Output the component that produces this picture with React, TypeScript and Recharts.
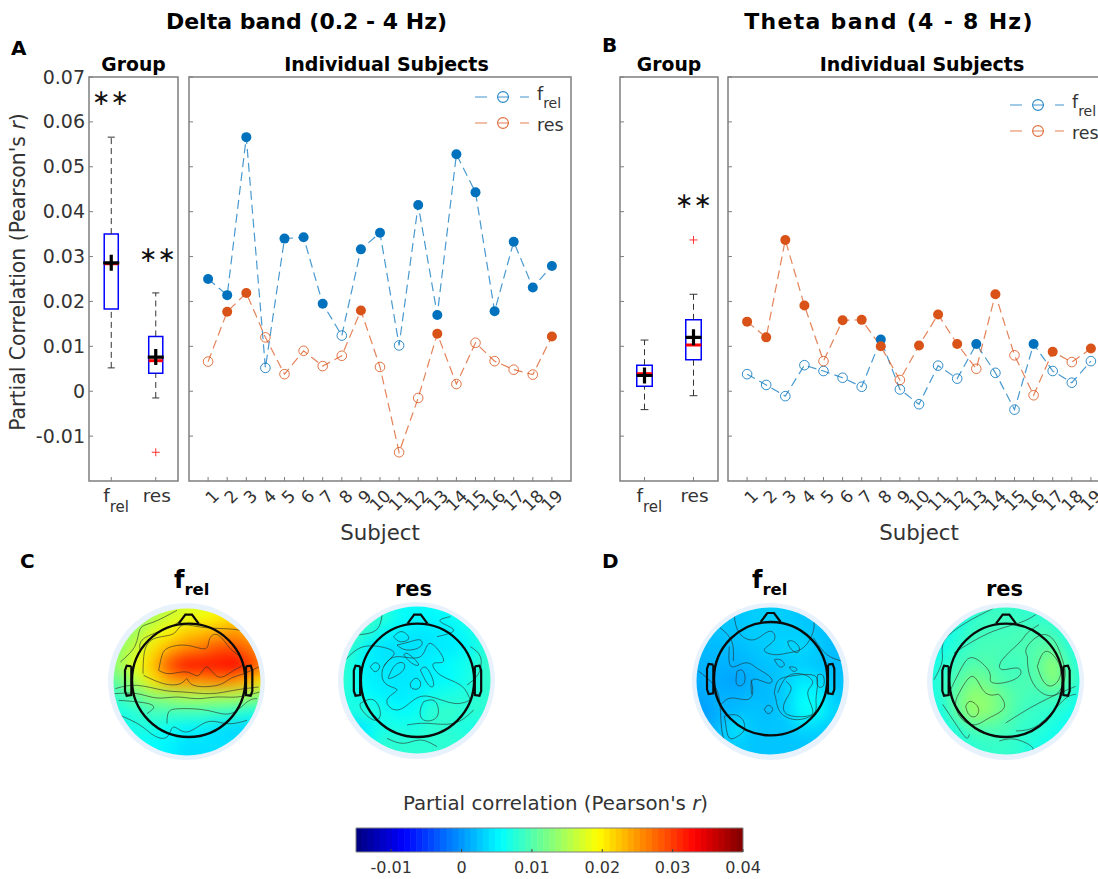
import React from 'react';
import { ComposedChart, Line, Scatter, XAxis, YAxis, ReferenceArea, ReferenceLine, ReferenceDot, Legend } from 'recharts';

const FONT = '"DejaVu Sans", sans-serif';
const BLUE = '#0072BD';
const ORANGE = '#D95319';
const GRAY = '#7f7f7f';
const TEXT = '#333333';

// ---------- Panels A / B data ----------
const subjects = [1, 2, 3, 4, 5, 6, 7, 8, 9, 10, 11, 12, 13, 14, 15, 16, 17, 18, 19];
const yTicks = [-0.01, 0, 0.01, 0.02, 0.03, 0.04, 0.05, 0.06, 0.07];
const yTickLabels = ['-0.01', '0', '0.01', '0.02', '0.03', '0.04', '0.05', '0.06', '0.07'];
const seriesNames = ['frel', 'res'];

const deltaFrel = [0.025, 0.0214, 0.0566, 0.0052, 0.034, 0.0343, 0.0195, 0.0124, 0.0316, 0.0353, 0.0102, 0.0415, 0.017, 0.0528, 0.0443, 0.0178, 0.0333, 0.0231, 0.0279];
const deltaRes = [0.0066, 0.0177, 0.0219, 0.012, 0.0038, 0.009, 0.0056, 0.0079, 0.018, 0.0054, -0.0136, -0.0015, 0.0128, 0.0016, 0.0108, 0.0067, 0.0048, 0.0037, 0.0122];
const deltaFrelOpen = [4, 8, 11];
const deltaResFilled = [2, 3, 9, 13, 19];

const thetaFrel = [0.0038, 0.0014, -0.0011, 0.0058, 0.0045, 0.003, 0.001, 0.0115, 0.0004, -0.0029, 0.0057, 0.0028, 0.0105, 0.0041, -0.0041, 0.0105, 0.0045, 0.0019, 0.0067];
const thetaRes = [0.0155, 0.012, 0.0337, 0.0191, 0.0067, 0.0158, 0.0159, 0.01, 0.0025, 0.0102, 0.0171, 0.0105, 0.005, 0.0216, 0.008, -0.0009, 0.0088, 0.0065, 0.0095];
const thetaFrelFilled = [8, 13, 16];
const thetaResFilled = [1, 2, 3, 4, 6, 7, 8, 10, 11, 12, 14, 17, 19];

// [low whisker, q1, median, mean, q3, high whisker]
const deltaFrelBox = [0.0052, 0.0183, 0.0284, 0.0286, 0.035, 0.0566];
const deltaResBox = [-0.0015, 0.004, 0.0068, 0.0076, 0.0122, 0.0219];
const deltaOutliers = [{ x: 2, y: -0.0136 }];
const thetaFrelBox = [-0.0041, 0.0011, 0.0039, 0.0035, 0.0058, 0.0114];
const thetaResBox = [-0.001, 0.007, 0.0103, 0.012, 0.0159, 0.0216];
const thetaOutliers = [{ x: 2, y: 0.0337 }];

// ---------- Topographic maps (values x 0.001) ----------
const gridCoords = [-240, -192, -144, -96, -48, 0, 48, 96, 144, 192, 240];
const cFrelGrid = [
  [12, 12, 13, 14, 16, 17, 17, 18, 19, 20, 20],
  [12, 12, 13, 15, 17, 18, 19, 20, 21, 22, 22],
  [12, 13, 15, 18, 20, 22, 23, 24, 25, 24, 23],
  [12, 14, 17, 21, 24, 26, 27, 29, 29, 27, 25],
  [12, 15, 19, 23, 29, 32, 32, 32, 33, 30, 26],
  [10, 12, 16, 21, 24, 25, 25, 26, 25, 23, 20],
  [8, 9, 11, 13, 14, 15, 15, 15, 15, 14, 12],
  [7, 7, 8, 9, 9, 9, 9, 8.5, 8, 7, 7],
  [6, 6.5, 7, 7, 6, 5, 5, 4, 3.5, 3.5, 3.5],
  [6, 6, 6, 5.5, 5, 4, 4, 4, 4, 4, 4],
  [6, 6, 6, 5.5, 5, 4, 4, 4, 4, 4, 4],
];
const cResGrid = [
  [8, 8, 8, 7, 6, 6, 6, 6, 6, 7, 7],
  [8, 9, 9, 8, 6, 5.5, 5.5, 6, 7, 7, 7],
  [9, 9, 8, 6, 5, 4.5, 4.5, 5, 6, 7.5, 8],
  [9, 8, 5, 4, 4, 4, 4.5, 4.5, 5, 7, 8],
  [9, 7, 5, 4.5, 4.5, 4.5, 5, 5.5, 6.5, 8, 8.5],
  [9, 7, 5, 4.5, 4.5, 4.5, 5, 5.5, 6.5, 8, 8.5],
  [8, 7, 5.5, 5, 4.5, 5, 6.5, 7, 7.5, 8, 8],
  [7, 7, 8, 6.5, 5.5, 6, 8, 8.5, 8, 8, 7.5],
  [5, 3.5, 5, 7, 7, 7, 8, 8, 7, 7, 7],
  [5, 4, 6, 8, 8, 8, 8, 8, 8, 7, 7],
  [5, 5, 7, 8, 8, 8, 8, 8, 8, 7, 7],
];
const dFrelGrid = [
  [2.5, 2.5, 2.5, 2.5, 3, 3, 3, 2.5, 2.5, 2.5, 2.5],
  [2, 2, 2.5, 2.5, 3, 3, 3, 2.5, 2.5, 2, 2],
  [2, 2, 2.5, 2.5, 3, 3, 3, 3, 2.5, 2, 2],
  [1.5, 2, 2, 2, 2.5, 3, 3.5, 3.5, 3, 2, 2],
  [1.5, 1.5, 1.5, 1.5, 2, 2.5, 2.5, 3, 2.5, 2, 2],
  [1, 1.5, 1, 0.5, 1.5, 2, 3, 4.5, 4, 2.5, 2.5],
  [0.5, 1, 1.5, 1.5, 2, 2, 3, 5.5, 5.5, 3, 2.5],
  [0, 0.5, 1.5, 2, 2.5, 2, 3, 6, 6, 3.5, 3],
  [0, 0.5, 2.5, 4.5, 2.5, 2.5, 2.5, 3.5, 3.5, 2.5, 2.5],
  [0.5, 1, 2.5, 3, 2.5, 2.5, 2.5, 2.5, 2.5, 2.5, 2],
  [0.5, 1, 2.5, 3, 2.5, 2.5, 2.5, 2.5, 2.5, 2.5, 2],
];
const dResGrid = [
  [6, 6, 6, 7.5, 8, 8, 8, 8, 7, 6, 6],
  [5, 5.5, 6.5, 8, 9, 9, 8.5, 8, 8, 6, 5.5],
  [5, 6, 7.5, 9, 9, 9, 9.5, 9.5, 9, 7, 5.5],
  [5.5, 6.5, 8, 9, 9.5, 9.5, 9.5, 10, 11, 8, 6],
  [6.5, 7.5, 9, 10, 10, 9, 9, 10.5, 13.5, 9, 7],
  [7, 8, 10, 12, 11, 9.5, 9.5, 10, 13, 10, 7],
  [6, 8, 11, 13.5, 13, 11, 9.5, 9, 9.5, 8, 6],
  [6, 7, 11, 14, 13, 11, 9, 8.5, 8, 7, 5.5],
  [5.5, 6.5, 8, 10, 10, 9.5, 8.5, 8, 7, 6, 5.5],
  [5, 6, 7, 8, 8.5, 8.5, 8, 7, 6.5, 6, 5],
  [5, 6, 7, 8, 8.5, 8.5, 8, 7, 6.5, 6, 5],
];

type P = number[][];
const cFrelContours: P[] = [
  [[-85, 35], [-75, 80], [-55, 103], [0, 110], [55, 100], [68, 130], [95, 140], [130, 100], [160, 75], [165, 50], [140, 35], [95, 15], [60, 45], [35, 20], [0, 30], [-50, 25], [-85, 35]],
  [[-132, 25], [-125, 100], [-90, 133], [-40, 145], [-15, 170], [40, 165], [110, 160], [160, 155], [200, 140]],
  [[-130, 20], [-70, -5], [-20, -5], [0, 10], [20, -10], [90, -10], [130, 10], [170, 25], [215, 45]],
  [[-215, -20], [-150, -10], [-70, -25], [-10, -30], [70, -35], [140, -25], [215, -15]],
  [[-218, -35], [-150, -35], [-90, -48], [-30, -45], [30, -50], [90, -45], [150, -45], [218, -30]],
  [[-205, -55], [-130, -62], [-100, -75], [-120, -95]],
  [[-60, -125], [-55, -90], [-20, -80], [60, -85], [130, -95], [180, -60], [210, -50]],
  [[-200, -100], [-140, -130], [-100, -160], [-60, -165], [-40, -135], [0, -150], [60, -120], [120, -125], [180, -115]],
  [[-200, 60], [-155, 110], [-140, 160], [-100, 180], [-30, 215]],
  [[-140, 90], [-130, 130], [-60, 160], [-20, 185]],
];
const cResContours: P[] = [
  [[-215, 60], [-160, 100], [-90, 95], [-70, 75], [-100, 40], [-95, -10], [-60, -30], [-90, -60], [-60, -90], [-10, -60], [40, -50], [110, -70], [160, -60]],
  [[160, -60], [130, -15], [70, 15], [50, 50], [80, 60], [40, 110], [10, 70], [-60, 70], [-100, 40]],
  [[-70, 130], [-45, 145], [-25, 125], [-50, 115], [-70, 130]],
  [[-60, 105], [-20, 115], [10, 120], [10, 100], [-30, 90], [-60, 105]],
  [[-140, 40], [-125, 52], [-112, 40], [-125, 25], [-140, 40]],
  [[-85, 10], [-65, 45], [-40, 50], [-45, 25], [-80, 5], [-85, 10]],
  [[-40, 75], [-15, 50], [5, 45], [-10, 65], [-30, 80], [-40, 75]],
  [[-20, -10], [-5, 5], [10, -5], [5, -25], [-15, -25], [-20, -10]],
  [[10, 30], [30, 35], [50, -10], [35, -15], [10, 30]],
  [[20, -65], [55, -65], [60, -110], [20, -120], [10, -90], [20, -65]],
  [[-170, -70], [-130, -60], [-110, -100], [-130, -120], [-165, -90], [-170, -70]],
  [[-180, 135], [-130, 145], [-110, 170], [-105, 195]],
  [[100, 190], [70, 175], [110, 150], [60, 130]],
  [[160, 100], [190, 70], [185, 20], [150, -15]],
  [[-30, -135], [30, -130], [110, -130], [170, -90]],
  [[-90, -175], [-40, -190], [10, -180], [60, -200]],
];
const dFrelContours: P[] = [
  [[-107, 194], [-92, 144], [-47, 124], [-2, 149], [13, 124], [-17, 94], [13, 79], [53, 84], [100, 100], [130, 150], [130, 195]],
  [[-122, 104], [-117, 44], [-77, 54], [-47, 44], [-32, 34], [3, 9], [-7, -6], [-50, 5], [-55, -40]],
  [[23, -36], [53, 14], [103, 19], [128, -6], [113, -36], [128, -86], [108, -106], [53, -101], [43, -66], [63, -26], [48, -1]],
  [[13, -36], [23, -1], [58, 14], [123, 19], [143, -6], [138, -56], [133, -96], [83, -116], [33, -96], [18, -56], [13, -36]],
  [[53, 119], [60, 100], [80, 85], [88, 100], [70, 119], [53, 119]],
  [[13, 64], [30, 42], [43, 50], [30, 64], [13, 64]],
  [[58, 42], [70, 29], [81, 35], [70, 42], [58, 42]],
  [[-17, -85], [-5, -73], [8, -85], [-5, -98], [-17, -85]],
  [[-99, 29], [-80, 29], [-77, -5], [-99, -11], [-99, 29]],
  [[143, 19], [160, 15], [160, -14], [143, -14], [143, 19]],
  [[-147, -71], [-117, -51], [-72, -56], [-52, -36], [-57, 4]],
  [[-137, -106], [-107, -101], [-82, -116], [-77, -146], [-97, -166], [-122, -171], [-132, -136], [-137, -106]],
  [[-215, 30], [-170, -10], [-150, -70], [-140, -170], [-100, -210]],
  [[-150, 160], [-115, 120], [-110, 60]],
  [[130, 130], [170, 80], [215, 60]],
];
const dResContours: P[] = [
  [[94, 44], [124, 89], [164, 34], [139, -14], [109, 4], [94, 44]],
  [[64, 74], [64, 104], [109, 139], [149, 114], [169, 64], [177, 14], [150, -40], [100, -30], [70, 20], [64, 74]],
  [[-121, -76], [-106, -61], [-83, -81], [-91, -106], [-111, -101], [-121, -76]],
  [[-146, -46], [-101, 14], [-66, -31], [-31, -41], [-16, -46], [-6, -81], [-51, -111], [-91, -131], [-131, -116], [-151, -76], [-146, -46]],
  [[-171, -36], [-131, 44], [-96, 69], [-51, 29], [-46, -1], [-11, -6], [39, 14], [34, 39], [-11, 34], [-11, 64], [39, 114], [64, 144], [99, 169]],
  [[-156, 84], [-51, 144], [39, 174], [89, 199]],
  [[-216, 4], [-191, 64], [-186, 119], [-121, 174], [-36, 219]],
  [[-1, -126], [99, -66], [209, -16]],
  [[-190, -70], [-150, -130], [-120, -170], [-110, -160]],
  [[30, -150], [100, -130], [170, -60], [210, -40]],
  [[-20, -180], [30, -175], [80, -200], [60, -215]],
];

const noseShape = [[-30, 170], [-10, 197], [10, 197], [30, 170]];
const leftEarShape = [[-172, 42], [-186, 44], [-191, 30], [-191, -32], [-186, -46], [-172, -44], [-172, 42]];
const rightEarShape = [[172, 42], [186, 44], [191, 30], [191, -32], [186, -46], [172, -44], [172, 42]];
const HEAD_RADIUS = 170;

const colorTicks = [-0.01, 0, 0.01, 0.02, 0.03, 0.04];
const colorTickLabels = ['-0.01', '0', '0.01', '0.02', '0.03', '0.04'];
const colorMin = -0.015;
const colorMax = 0.04;
const colorSteps = Array.from({ length: 64 }, (_, i) => ({ x: colorMin + ((i + 0.5) * (colorMax - colorMin)) / 64, y: 0.5 }));

function jet(v: number) {
  const t = Math.max(0, Math.min(1, (v - colorMin) / (colorMax - colorMin)));
  const c = (a: number) => Math.round(255 * Math.max(0, Math.min(1, 1.5 - Math.abs(4 * t - a))));
  return `rgb(${c(3)},${c(2)},${c(1)})`;
}

const pts = (list: number[][]) => list.map(([x, y]) => ({ x, y }));

// ---------- Ticks ----------
function YTick({ x, y, index, showLabels }: any) {
  return (
    <g>
      <line x1={x} x2={x + 4} y1={y} y2={y} stroke={GRAY} strokeWidth={1} />
      {showLabels && (
        <text x={x - 4} y={y + 6.5} textAnchor="end" fontFamily={FONT} fontSize={19} fill={TEXT}>
          {yTickLabels[index]}
        </text>
      )}
    </g>
  );
}
function GroupXTick({ x, y, payload }: any) {
  return (
    <g>
      <line x1={x} x2={x} y1={y} y2={y - 4} stroke={GRAY} strokeWidth={1} />
      {payload.value === 1 ? (
        <text x={x - 8} y={y + 21} fontFamily={FONT} fontSize={18.5} fill={TEXT}>
          f<tspan dy={10} fontSize={15}>rel</tspan>
        </text>
      ) : (
        <text x={x + 1} y={y + 21} textAnchor="middle" fontFamily={FONT} fontSize={18.5} fill={TEXT}>res</text>
      )}
    </g>
  );
}
function SubjectTick({ x, y, payload }: any) {
  const tx = x + 12;
  const ty = y + 16;
  return (
    <g>
      <line x1={x} x2={x} y1={y} y2={y - 4} stroke={GRAY} strokeWidth={1} />
      <text x={tx} y={ty} textAnchor="end" fontFamily={FONT} fontSize={17} fill={TEXT} transform={`rotate(-45 ${tx} ${ty})`}>
        {payload.value}
      </text>
    </g>
  );
}
function ColorTick({ x, y, index }: any) {
  return (
    <g>
      <line x1={x} x2={x} y1={y} y2={y - 3} stroke="#444" strokeWidth={1} />
      <text x={x} y={y + 21} textAnchor="middle" fontFamily={FONT} fontSize={16} fill={TEXT}>{colorTickLabels[index]}</text>
    </g>
  );
}

// ---------- Box plots ----------
function BoxMarks(x: number, b: number[]) {
  const [lo, q1, med, , q3, hi] = b;
  const hb = 0.158;
  const hc = 0.08;
  const dash = '6 4';
  return [
    <ReferenceLine key={`w1${x}`} segment={[{ x, y: q3 }, { x, y: hi }]} stroke="#333" strokeWidth={1} strokeDasharray={dash} />,
    <ReferenceLine key={`w2${x}`} segment={[{ x, y: lo }, { x, y: q1 }]} stroke="#333" strokeWidth={1} strokeDasharray={dash} />,
    <ReferenceLine key={`c1${x}`} segment={[{ x: x - hc, y: hi }, { x: x + hc, y: hi }]} stroke="#333" strokeWidth={1} />,
    <ReferenceLine key={`c2${x}`} segment={[{ x: x - hc, y: lo }, { x: x + hc, y: lo }]} stroke="#333" strokeWidth={1} />,
    <ReferenceArea key={`b${x}`} x1={x - hb} x2={x + hb} y1={q1} y2={q3} fill="#fff" fillOpacity={1} stroke="#0000ff" strokeWidth={1.5} />,
    <ReferenceLine key={`m${x}`} segment={[{ x: x - hb, y: med }, { x: x + hb, y: med }]} stroke="#ff0000" strokeWidth={3} />,
  ];
}
const Plus = ({ cx, cy }: any) => (
  <path d={`M${cx - 8} ${cy}H${cx + 8}M${cx} ${cy - 8}V${cy + 8}`} stroke="#000" strokeWidth={3.2} fill="none" />
);
const RedPlus = ({ cx, cy }: any) => (
  <path d={`M${cx - 4} ${cy}H${cx + 4}M${cx} ${cy - 4}V${cy + 4}`} stroke="#ff3030" strokeWidth={1} fill="none" />
);

function GroupChart({ left, width, leftW, frelBox, resBox, outliers, showLabels }: any) {
  const means = [{ x: 1, y: frelBox[3] }, { x: 2, y: resBox[3] }];
  return (
    <div style={{ position: 'absolute', left, top: 60 }}>
      <ComposedChart width={width} height={485} margin={{ top: 17, right: 2, bottom: 0, left: 0 }}>
        <XAxis type="number" dataKey="x" domain={[0.5, 2.5]} ticks={[1, 2]} interval={0} height={64} tickSize={0} tickMargin={0} tickLine={false} axisLine={false} tick={<GroupXTick />} />
        <YAxis type="number" dataKey="y" domain={[-0.02, 0.07]} ticks={yTicks} interval={0} width={leftW} tickSize={0} tickMargin={0} tickLine={false} axisLine={false} tick={<YTick showLabels={showLabels} />} />
        {BoxMarks(1, frelBox)}
        {BoxMarks(2, resBox)}
        <ReferenceArea x1={0.5} x2={2.5} y1={-0.02} y2={0.07} fill="none" stroke={GRAY} strokeWidth={1.5} />
        <Scatter data={outliers} shape={<RedPlus />} isAnimationActive={false} />
        <Scatter data={means} shape={<Plus />} isAnimationActive={false} />
      </ComposedChart>
    </div>
  );
}

// ---------- Individual subjects ----------
function makeDot(color: string, isFilled: (s: number) => boolean) {
  return (props: any) => {
    const { cx, cy, payload } = props;
    return isFilled(payload.x) ? (
      <circle key={payload.x} cx={cx} cy={cy} r={5} fill={color} stroke="none" />
    ) : (
      <circle key={payload.x} cx={cx} cy={cy} r={4.8} fill="none" stroke={color} strokeWidth={1} strokeOpacity={0.8} />
    );
  };
}
function LegendBox({ color }: { color: string }) {
  return (
    <>
      <line x1={0} x2={54} y1={0} y2={0} stroke={color} strokeWidth={1.2} strokeOpacity={0.75} strokeDasharray="12 11 11 11 10" />
      <circle cx={28} cy={0} r={5.4} fill="none" stroke={color} strokeOpacity={0.85} strokeWidth={1.1} />
    </>
  );
}
function SubjectLegend({ rowTop }: { rowTop: number }) {
  return (
    <svg width={125} height={60} style={{ display: 'block', overflow: 'visible' }}>
      <g transform={`translate(1 ${rowTop})`}>
        <LegendBox color={BLUE} />
        <text x={62} y={3} fontFamily={FONT} fontSize={17.5} fill={TEXT}>
          f<tspan dy={8} fontSize={14}>{seriesNames[0].slice(1)}</tspan>
        </text>
      </g>
      <g transform={`translate(1 ${rowTop + 26})`}>
        <LegendBox color={ORANGE} />
        <text x={62} y={7.5} fontFamily={FONT} fontSize={17.5} fill={TEXT}>{seriesNames[1]}</text>
      </g>
    </svg>
  );
}
function SubjectChart({ left, width, rightM, frel, res, frelFilled, resFilled, legendLeft, rowTop }: any) {
  const rows = subjects.map((s, i) => ({ x: s, frel: frel[i], res: res[i] }));
  return (
    <div style={{ position: 'absolute', left, top: 60 }}>
      <ComposedChart width={width} height={485} data={rows} margin={{ top: 17, right: rightM, bottom: 0, left: 0 }}>
        <XAxis
          type="number" dataKey="x" domain={[0, 20]} ticks={subjects} interval={0} height={64}
          tickSize={0} tickMargin={0} tickLine={false} axisLine={false} tick={<SubjectTick />}
          label={{ value: 'Subject', position: 'insideBottom', offset: 5, fontFamily: FONT, fontSize: 21.3, fill: TEXT }}
        />
        <YAxis type="number" domain={[-0.02, 0.07]} ticks={yTicks} interval={0} width={18} tickSize={0} tickMargin={0} tickLine={false} axisLine={false} tick={<YTick showLabels={false} />} />
        <ReferenceArea x1={0} x2={20} y1={-0.02} y2={0.07} fill="none" stroke={GRAY} strokeWidth={1.5} />
        <Line dataKey="frel" name="frel" stroke={BLUE} strokeOpacity={0.72} strokeWidth={1.2} strokeDasharray="9 5" dot={makeDot(BLUE, frelFilled)} isAnimationActive={false} />
        <Line dataKey="res" name="res" stroke={ORANGE} strokeOpacity={0.72} strokeWidth={1.2} strokeDasharray="9 5" dot={makeDot(ORANGE, resFilled)} isAnimationActive={false} />
        <Legend layout="horizontal" align="center" verticalAlign="middle" wrapperStyle={{ left: legendLeft, top: 0, width: 125, height: 60 }} content={() => <SubjectLegend rowTop={rowTop} />} />
      </ComposedChart>
    </div>
  );
}

// ---------- Topographic map ----------
const HeatCell = ({ cx, cy, payload }: any) => (
  <rect x={cx - 9} y={cy - 9} width={18} height={18} fill={jet(payload.v / 1000)} />
);
const ColorCell = ({ cx, cy, payload }: any) => (
  <rect x={cx - 3.3} y={cy - 12} width={6.6} height={24} fill={jet(payload.x)} />
);
function TopoMap({ cx, cy, grid, contours, head }: any) {
  const cells = grid.flatMap((row: number[], r: number) =>
    row.map((v, c) => ({ x: gridCoords[c], y: gridCoords[10 - r], v }))
  );
  const shift = (list: number[][]) => pts(list.map(([x, y]) => [x + head[0], y + head[1]]));
  const outlineProps = { dataKey: 'y', type: 'linear' as const, stroke: '#0a0a0a', strokeWidth: 2.2, dot: false, isAnimationActive: false, zIndex: 700 };
  return (
    <>
      <div style={{ position: 'absolute', left: cx - 78.5, top: cy - 78.5, width: 157, height: 157, borderRadius: '50%', background: '#e8f2fd' }} />
      <div style={{ position: 'absolute', left: cx - 96, top: cy - 96 }}>
        <ComposedChart width={192} height={192} margin={{ top: 0, right: 0, bottom: 0, left: 0 }}>
          <XAxis type="number" dataKey="x" domain={[-288, 288]} hide />
          <YAxis type="number" dataKey="y" domain={[-288, 288]} hide />
          <Scatter className="heat" data={cells} shape={<HeatCell />} isAnimationActive={false} zIndex={100} />
          {contours.map((c: number[][], i: number) => (
            <Line key={i} className="contour" data={pts(c)} dataKey="y" type="natural" stroke="#2a2a2a" strokeOpacity={0.68} strokeWidth={0.9} dot={false} isAnimationActive={false} zIndex={400} />
          ))}
          <Line data={shift(noseShape)} {...outlineProps} />
          <Line data={shift(leftEarShape)} {...outlineProps} />
          <Line data={shift(rightEarShape)} {...outlineProps} />
          <ReferenceDot x={head[0]} y={head[1]} r={HEAD_RADIUS / 3} fill="none" stroke="#0a0a0a" strokeWidth={2.4} zIndex={700} />
        </ComposedChart>
      </div>
    </>
  );
}

function ColorBar() {
  return (
    <div style={{ position: 'absolute', left: 340, top: 820 }}>
      <ComposedChart width={430} height={59} margin={{ top: 8, right: 27, bottom: 0, left: 16 }}>
        <XAxis type="number" dataKey="x" domain={[colorMin, colorMax]} allowDataOverflow ticks={colorTicks} interval={0} height={27} tickSize={0} tickMargin={0} tickLine={false} axisLine={false} tick={<ColorTick />} />
        <YAxis type="number" dataKey="y" domain={[0, 1]} hide />
        <Scatter data={colorSteps} shape={<ColorCell />} isAnimationActive={false} zIndex={100} />
        <ReferenceArea x1={colorMin} x2={colorMax} y1={0} y2={1} fill="none" stroke={GRAY} strokeWidth={1} zIndex={300} />
      </ComposedChart>
    </div>
  );
}

const stars = { fontFamily: FONT, fontSize: 22, fill: '#111' } as const;
const bold = { fontFamily: FONT, fontWeight: 700, fill: '#000' } as const;

function Annotations() {
  return (
    <svg width={1098} height={879} style={{ position: 'absolute', left: 0, top: 0, pointerEvents: 'none' }}>
      <text x={306.5} y={29} textAnchor="middle" fontSize={22} {...bold}>Delta band (0.2 - 4 Hz)</text>
      <text x={889} y={29} textAnchor="middle" fontSize={22} letterSpacing={1.3} {...bold}>Theta band (4 - 8 Hz)</text>
      <text x={11} y={55} fontSize={20} {...bold}>A</text>
      <text x={602} y={52} fontSize={20} {...bold}>B</text>
      <text x={20} y={568} fontSize={20} {...bold}>C</text>
      <text x={602} y={568} fontSize={20} {...bold}>D</text>
      <text x={133.5} y={71} textAnchor="middle" fontSize={18.8} {...bold}>Group</text>
      <text x={386.5} y={71} textAnchor="middle" fontSize={19} {...bold}>Individual Subjects</text>
      <text x={669} y={71} textAnchor="middle" fontSize={18.8} {...bold}>Group</text>
      <text x={922} y={71} textAnchor="middle" fontSize={19} {...bold}>Individual Subjects</text>
      <text x={0} y={0} transform="translate(25 272) rotate(-90)" textAnchor="middle" fontFamily={FONT} fontSize={20.4} fill={TEXT}>
        Partial Correlation (Pearson's <tspan fontStyle="italic">r</tspan>)
      </text>
      <text x={92} y={105} {...stars}>∗∗</text>
      <text x={139} y={262} {...stars}>∗∗</text>
      <text x={675} y={208} {...stars}>∗∗</text>
      <text x={174} y={588} fontSize={24} {...bold}>f<tspan dy={7} fontSize={16.5}>rel</tspan></text>
      <text x={395} y={596} fontSize={21} {...bold}>res</text>
      <text x={752} y={588} fontSize={24} {...bold}>f<tspan dy={7} fontSize={16.5}>rel</tspan></text>
      <text x={986} y={596} fontSize={21} {...bold}>res</text>
      <text x={555.5} y={810} textAnchor="middle" fontFamily={FONT} fontSize={19.8} fill={TEXT}>
        Partial correlation (Pearson's <tspan fontStyle="italic">r</tspan>)
      </text>
    </svg>
  );
}

export default function App() {
  return (
    <div style={{ position: 'absolute', left: 0, top: 0, width: 1098, height: 879, overflow: 'hidden', background: '#fff' }}>
      <style>{`.heat{filter:url(#mapBlur);clip-path:url(#mapClip);}.contour{clip-path:url(#mapClip);}`}</style>
      <svg width={0} height={0} style={{ position: 'absolute' }}>
        <defs>
          <filter id="mapBlur" x="-20%" y="-20%" width="140%" height="140%" colorInterpolationFilters="sRGB">
            <feGaussianBlur stdDeviation={7} />
          </filter>
          <clipPath id="mapClip" clipPathUnits="userSpaceOnUse">
            <circle cx={96} cy={96} r={73.5} />
          </clipPath>
        </defs>
      </svg>
      <GroupChart left={0} width={180} leftW={89} frelBox={deltaFrelBox} resBox={deltaResBox} outliers={deltaOutliers} showLabels />
      <SubjectChart left={171} width={409} rightM={9} frel={deltaFrel} res={deltaRes}
        frelFilled={(s: number) => !deltaFrelOpen.includes(s)} resFilled={(s: number) => deltaResFilled.includes(s)} legendLeft={303} rowTop={37} />
      <GroupChart left={600} width={120} leftW={20} frelBox={thetaFrelBox} resBox={thetaResBox} outliers={thetaOutliers} showLabels={false} />
      <SubjectChart left={710} width={409} rightM={9} frel={thetaFrel} res={thetaRes}
        frelFilled={(s: number) => thetaFrelFilled.includes(s)} resFilled={(s: number) => thetaResFilled.includes(s)} legendLeft={299} rowTop={45} />
      <TopoMap cx={186.7} cy={681.7} grid={cFrelGrid} contours={cFrelContours} head={[5, 5]} />
      <TopoMap cx={416.7} cy={680} grid={cResGrid} contours={cResContours} head={[1.5, -1]} />
      <TopoMap cx={770} cy={681.3} grid={dFrelGrid} contours={dFrelContours} head={[2, 7]} />
      <TopoMap cx={1005.5} cy={681.3} grid={dResGrid} contours={dResContours} head={[0, 2]} />
      <ColorBar />
      <Annotations />
    </div>
  );
}
